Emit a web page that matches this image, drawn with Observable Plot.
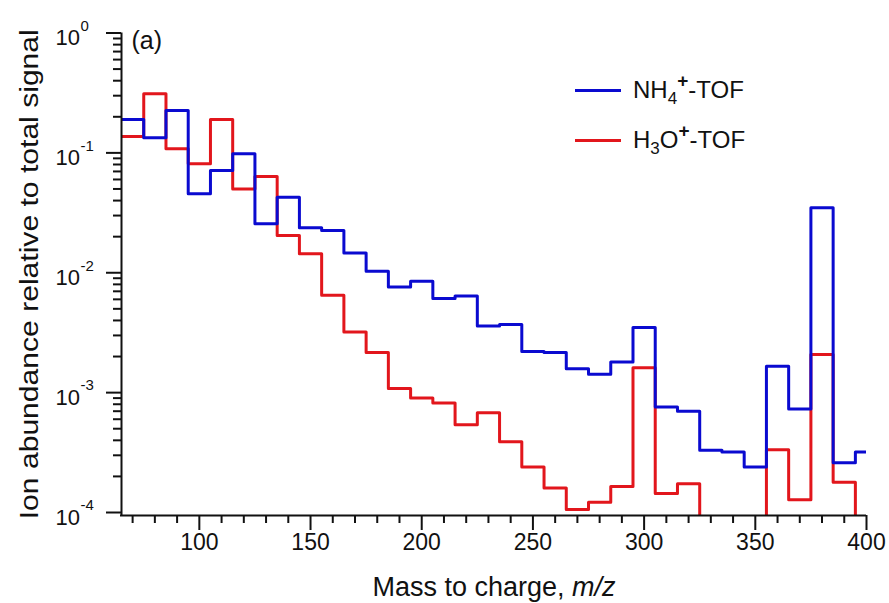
<!DOCTYPE html>
<html>
<head>
<meta charset="utf-8">
<script src="https://cdn.jsdelivr.net/npm/d3@7"></script>
<script src="https://cdn.jsdelivr.net/npm/@observablehq/plot@0.6"></script>
<style>
  body { margin: 0; background: #fff; }
  #wrap { position: relative; width: 889px; height: 603px; }
  svg text, .lg { font-family: "Liberation Sans", Arial, Helvetica, sans-serif; }
  .lg { position: absolute; font-size: 24px; color: #111; white-space: nowrap; line-height: 30px; }
  .lg .sw { display: inline-block; width: 46px; height: 3px; vertical-align: middle; margin-right: 12px; position: relative; top: -1px; }
  .lg sub { font-size: 17px; vertical-align: -6px; }
  .lg sup { font-size: 19px; vertical-align: 11px; font-weight: bold; }
</style>
</head>
<body>
<div id="wrap"><div id="chart"></div></div>
<script>
// ---- data (bin centres, 10 m/z wide bins) ----
const mz = [70, 80, 90, 100, 110, 120, 130, 140, 150, 160, 170, 180, 190, 200, 210, 220, 230,
            240, 250, 260, 270, 280, 290, 300, 310, 320, 330, 340, 350, 360, 370, 380, 390, 400];
const nh4 = [0.190, 0.134, 0.226, 0.0456, 0.0713, 0.0982, 0.0256, 0.0427, 0.0237, 0.0225,
             0.0146, 0.0103, 0.0076, 0.0085, 0.0061, 0.0064, 0.0036, 0.0037, 0.0022, 0.00216,
             0.00158, 0.00142, 0.0018, 0.0035, 0.00076, 0.00070, 0.00033, 0.00032, 0.00024,
             0.00166, 0.00073, 0.0348, 0.00026, 0.00032];
const h3o = [0.137, 0.311, 0.108, 0.081, 0.190, 0.050, 0.0636, 0.0205, 0.0144, 0.0065,
             0.0032, 0.00216, 0.00108, 0.00090, 0.00082, 0.00054, 0.00068, 0.00039, 0.00024,
             0.00016, 0.000106, 0.000122, 0.000165, 0.00161, 0.000144, 0.000174, 0.00005,
             0.00005, 0.00005, 0.000334, 0.000128, 0.00208, 0.000179, 0.00005];
const seriesNames = ["NH4+-TOF", "H3O+-TOF"];
const xMajorTicks = [100, 150, 200, 250, 300, 350, 400];
const xMinorTicks = [70, 80, 90, 110, 120, 130, 140, 160, 170, 180, 190, 210, 220, 230, 240,
                     260, 270, 280, 290, 310, 320, 330, 340, 360, 370, 380, 390];
const yMajorTicks = [1, 0.1, 0.01, 0.001, 0.0001];
const yTickExponents = ["0", "-1", "-2", "-3", "-4"];
const yMinorMantissas = [2, 3, 4, 5, 6, 7, 8, 9];

// ---- build step-line tables ----
const binWidth = 10;
function steps(vals, name) {
  const pts = mz.map((m, i) => ({x: m - binWidth / 2, y: vals[i], s: name}));
  pts.push({x: mz[mz.length - 1] + binWidth / 2, y: vals[vals.length - 1], s: name});
  return pts;
}
const blueData = steps(nh4, seriesNames[0]);
const redData = steps(h3o, seriesNames[1]);
const yMinor = [];
for (const d of [0.0001, 0.001, 0.01, 0.1]) for (const m of yMinorMantissas) yMinor.push(m * d);

const yMin = Math.pow(10, -4.025);
const blue = "#0a0ad0";
const red = "#e2161c";

const chart = Plot.plot({
  width: 889,
  height: 603,
  marginLeft: 121,
  marginRight: 23,
  marginTop: 32.5,
  marginBottom: 88,
  style: {background: "#fff", color: "#111"},
  x: {domain: [65, 400], axis: null},
  y: {type: "log", domain: [yMin, 1], axis: null},
  marks: [
    Plot.line(redData, {x: "x", y: "y", curve: "step-after", stroke: red, strokeWidth: 3, clip: true}),
    Plot.line(blueData, {x: "x", y: "y", curve: "step-after", stroke: blue, strokeWidth: 3, clip: true}),
    // axes lines
    Plot.ruleX([65], {y1: 1, y2: yMin, stroke: "#111", strokeWidth: 2}),
    Plot.ruleY([yMin], {stroke: "#111", strokeWidth: 2, insetLeft: -1}),
    // x ticks
    Plot.axisX({ticks: xMajorTicks, tickSize: 15, tickPadding: 3, fontSize: 23, strokeWidth: 2,
                tickFormat: d => String(d), label: null}),
    Plot.axisX({ticks: xMinorTicks, tickSize: 8, tickFormat: () => "", strokeWidth: 2, label: null}),
    // y ticks
    Plot.axisY({ticks: yMajorTicks, tickSize: 15, tickFormat: () => "", strokeWidth: 2, label: null}),
    Plot.axisY({ticks: yMinor, tickSize: 8, tickFormat: () => "", strokeWidth: 2, label: null}),
    // y tick labels 10^n
    Plot.text(yMajorTicks, {y: d => d, frameAnchor: "left", text: () => "10", textAnchor: "start",
                            dx: -66, dy: 5, fontSize: 22}),
    Plot.text(yMajorTicks, {y: d => d, frameAnchor: "left", text: (d, i) => yTickExponents[i],
                            textAnchor: "start", dx: -41, dy: -7, fontSize: 15}),
    // axis titles
    Plot.text(["Mass to charge,\u00A0"], {frameAnchor: "bottom", text: d => d, textAnchor: "end",
                                     dx: 78, dy: 80, fontSize: 27}),
    Plot.text(["m/z"], {frameAnchor: "bottom", text: d => d, textAnchor: "start",
                        dx: 78, dy: 80, fontSize: 27, fontStyle: "italic"}),
    Plot.text(["Ion abundance relative to total signal"], {frameAnchor: "left", text: d => d,
              rotate: -90, dx: -92, fontSize: 26, className: "ylab"}),
    Plot.text(["(a)"], {frameAnchor: "top-left", text: d => d, textAnchor: "start",
                        dx: 10, dy: -2, fontSize: 25})
  ]
});
document.getElementById("chart").appendChild(chart);
const ylab = chart.querySelector(".ylab text");
if (ylab) {
  ylab.setAttribute("text-anchor", "start");
  ylab.setAttribute("x", -245);
  ylab.setAttribute("textLength", 490);
  ylab.setAttribute("lengthAdjust", "spacingAndGlyphs");
}

// legend (HTML overlay)
const wrap = document.getElementById("wrap");
const legendItems = [
  {color: blue, html: 'NH<sub>4</sub><sup>+</sup>-TOF', top: 66},
  {color: red, html: 'H<sub>3</sub>O<sup>+</sup>-TOF', top: 116}
];
for (const it of legendItems) {
  const el = document.createElement("div");
  el.className = "lg";
  el.style.left = "575px";
  el.style.top = it.top + "px";
  el.innerHTML = `<span class="sw" style="background:${it.color}"></span>${it.html}`;
  wrap.appendChild(el);
}
</script>
</body>
</html>
